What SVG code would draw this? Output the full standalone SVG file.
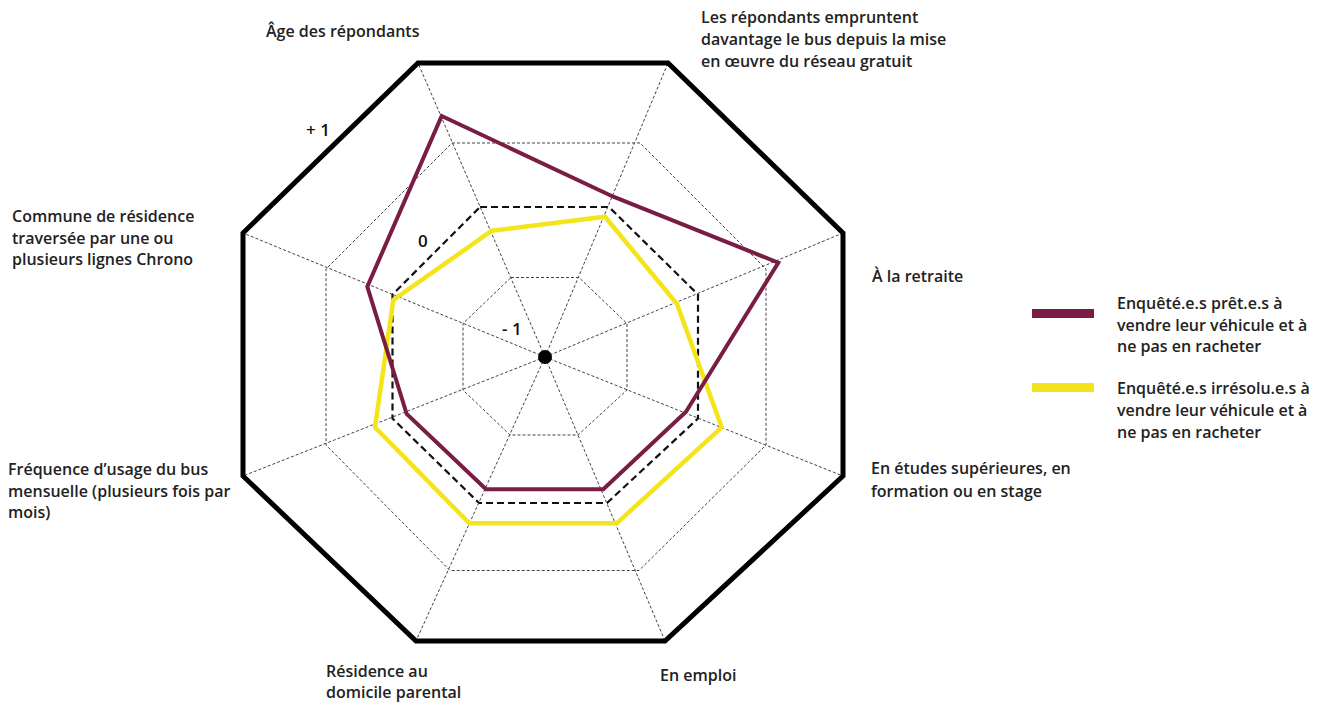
<svg xmlns="http://www.w3.org/2000/svg" width="1324" height="703" viewBox="0 0 1324 703">
<style>
.lbl{font-family:"Open Sans","Liberation Sans",sans-serif;font-weight:600;font-size:16px;fill:#222}
.scale{font-family:"Open Sans","Liberation Sans",sans-serif;font-weight:600;font-size:17px;fill:#111}
.grid{fill:none;stroke:#444;stroke-width:1;stroke-dasharray:3 2}
.zero{fill:none;stroke:#111;stroke-width:2.2;stroke-dasharray:7 4}
.frame{fill:none;stroke:#000;stroke-width:5;stroke-linejoin:miter}
.s1{fill:none;stroke:#7a1d45;stroke-width:4;stroke-linejoin:miter}
.s2{fill:none;stroke:#f4e41c;stroke-width:4.5;stroke-linejoin:miter}
</style>
<rect width="1324" height="703" fill="#fff"/>
<g id="grid">
  <polygon class="grid" points="511,277.5 579,277.5 627,323.5 627,390 578,435 510,435 463,390 463,323.5"/>
  <polygon class="grid" points="452,143 640,143 766,269 766,445 639,570.5 450,570.5 326,445 326,269"/>
  <polygon class="zero" points="480,207 609,207 698,294.5 698,418.5 607,503 479,503 392.5,418.5 392.5,294.5"/>
</g>
<g id="connectors">
  <line class="grid" x1="545" y1="357" x2="418" y2="63"/>
  <line class="grid" x1="545" y1="357" x2="668" y2="63"/>
  <line class="grid" x1="545" y1="357" x2="843" y2="233"/>
  <line class="grid" x1="545" y1="357" x2="843" y2="476"/>
  <line class="grid" x1="545" y1="357" x2="665" y2="641"/>
  <line class="grid" x1="545" y1="357" x2="416" y2="641"/>
  <line class="grid" x1="545" y1="357" x2="243" y2="476"/>
  <line class="grid" x1="545" y1="357" x2="243" y2="233"/>
</g>
<g id="frame">
  <polygon class="frame" points="418,63 668,63 843,233 843,476 665,641 416,641 243,476 243,233"/>
</g>
<g id="series-yellow">
  <polygon class="s2" points="491.7,230.7 605,216.7 677,304 721.7,427.3 616.7,523.3 469.3,523.3 375,427.3 393.3,300"/>
</g>
<g id="series-purple">
  <polygon class="s1" points="441.7,116 613.3,196.7 778.3,262.7 686,411.7 603.3,489.3 486,489.3 406.7,414 367.3,286.7"/>
</g>
<g id="center">
  <circle cx="545" cy="357" r="7" fill="#000"/>
</g>
<g id="scale-labels">
  <text class="scale" x="306" y="136">+ 1</text>
  <text class="scale" x="418" y="247">0</text>
  <text class="scale" x="502" y="335">- 1</text>
</g>
<g id="axis-age"><text class="lbl" x="266" y="37">Âge des répondants</text></g>
<g id="axis-bus">
  <text class="lbl" x="701" y="23">Les répondants empruntent</text>
  <text class="lbl" x="701" y="45">davantage le bus depuis la mise</text>
  <text class="lbl" x="701" y="67">en œuvre du réseau gratuit</text>
</g>
<g id="axis-retraite"><text class="lbl" x="872" y="282">À la retraite</text></g>
<g id="axis-etudes">
  <text class="lbl" x="871" y="474">En études supérieures, en</text>
  <text class="lbl" x="871" y="497">formation ou en stage</text>
</g>
<g id="axis-emploi"><text class="lbl" x="660" y="681">En emploi</text></g>
<g id="axis-residence">
  <text class="lbl" x="326" y="677">Résidence au</text>
  <text class="lbl" x="326" y="698">domicile parental</text>
</g>
<g id="axis-frequence">
  <text class="lbl" x="8" y="475">Fréquence d’usage du bus</text>
  <text class="lbl" x="8" y="497">mensuelle (plusieurs fois par</text>
  <text class="lbl" x="8" y="518">mois)</text>
</g>
<g id="axis-commune">
  <text class="lbl" x="12" y="222">Commune de résidence</text>
  <text class="lbl" x="12" y="244">traversée par une ou</text>
  <text class="lbl" x="12" y="265">plusieurs lignes Chrono</text>
</g>
<g id="legend">
  <rect x="1032" y="309" width="62" height="9" fill="#7a1d45"/>
  <text class="lbl" x="1117" y="309">Enquêté.e.s prêt.e.s à</text>
  <text class="lbl" x="1117" y="331">vendre leur véhicule et à</text>
  <text class="lbl" x="1117" y="352">ne pas en racheter</text>
  <rect x="1032" y="383" width="62" height="9" fill="#f4e41c"/>
  <text class="lbl" x="1117" y="394">Enquêté.e.s irrésolu.e.s à</text>
  <text class="lbl" x="1117" y="416">vendre leur véhicule et à</text>
  <text class="lbl" x="1117" y="438">ne pas en racheter</text>
</g>
</svg>
